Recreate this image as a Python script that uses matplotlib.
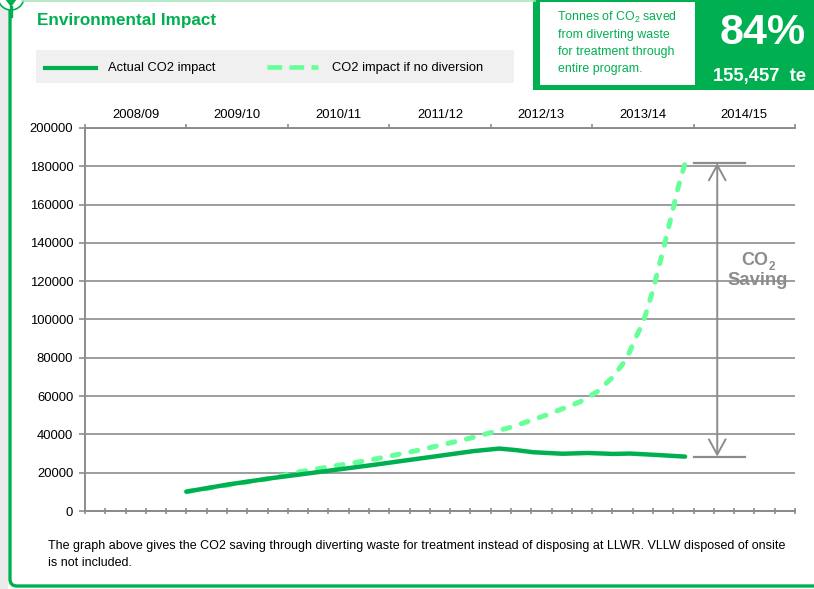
import numpy as np
import matplotlib.pyplot as plt
from matplotlib.patches import Rectangle, Circle, FancyBboxPatch, Polygon

plt.rcParams['font.family'] = ['Liberation Sans', 'DejaVu Sans']

# Data (x = months since April 2008)
years = ["2008/09", "2009/10", "2010/11", "2011/12", "2012/13", "2013/14", "2014/15"]
actual_month = [12, 17, 22, 34, 46, 49, 51, 53, 56.5, 59.5, 62.5, 64.5, 67.5, 71]
actual_co2 = [10100, 13900, 17100, 24000, 31300, 32600, 31800, 30700, 29900,
              30300, 29800, 30000, 29300, 28400]
nodiv_month = [12, 22, 25.4, 33.7, 39.6, 45.5, 50.6, 54.6, 58.6, 60.6, 62.5,
               64.1, 65.3, 66.0, 67.2, 68.4, 69.4, 70.2, 71]
nodiv_co2 = [10100, 17100, 20500, 26600, 31850, 37960, 44000, 50130, 57080, 62300,
             70130, 79740, 91900, 98000, 115400, 136300, 154570, 169350, 181700]

green = "#00b050"
light_green = "#66ff99"
grey = "#8c8c8c"

W, H = 814, 589
fig = plt.figure(figsize=(W / 100, H / 100), dpi=100)

# decoration layer in pixel coordinates
deco = fig.add_axes([0, 0, 1, 1], zorder=0)
deco.set_xlim(0, W)
deco.set_ylim(H, 0)
deco.axis("off")

deco.add_patch(Rectangle((0, 0), 8, H, color="#ebebeb", lw=0))
deco.add_patch(FancyBboxPatch((10, -20), 900, 606, boxstyle="round,pad=0,rounding_size=7",
                              fc="white", ec=green, lw=2.4))
deco.plot([22, 535], [1, 1], color="#a8e6bd", lw=1.2)
deco.add_patch(Circle((11, -3), 13, fc="white", ec=green, lw=1.2))
deco.add_patch(Polygon([[5, -1], [17, -1], [11, 7]], color=green, lw=0))
deco.plot([11, 11], [7, 16], color=green, lw=2.4)

deco.text(37, 20, "Environmental Impact", color=green, fontsize=12.3,
          fontweight="bold", va="center", ha="left")

# legend strip
deco.add_patch(Rectangle((36, 50), 478, 33, color="#f0f0f0", lw=0))
deco.plot([45, 96], [68, 68], color=green, lw=3)
deco.text(108, 68, "Actual CO2 impact", fontsize=9.3, va="center")
deco.plot([267, 318], [67, 67], color=light_green, lw=3.3, dashes=(3.2, 1.6))
deco.text(332, 68, "CO2 impact if no diversion", fontsize=9.3, va="center")

# headline box
deco.add_patch(Rectangle((533, 0), 300, 90, color=green, lw=0))
deco.add_patch(Rectangle((540, 2), 155, 83, color="white", lw=0))
deco.text(557, 17, r"Tonnes of CO$_\mathregular{2}$ saved", color=green, fontsize=8.9,
          va="center")
for i, line in enumerate(["from diverting waste", "for treatment through", "entire program."]):
    deco.text(558, 35 + 17 * i, line, color=green, fontsize=8.9, va="center")
deco.text(720, 33, "84%", color="white", fontsize=31, fontweight="bold", va="center")
deco.text(713, 77, "155,457  te", color="white", fontsize=13.2, fontweight="bold",
          va="center")

deco.text(48, 546, "The graph above gives the CO2 saving through diverting waste for "
          "treatment instead of disposing at LLWR. VLLW disposed of onsite",
          fontsize=9.0, va="center")
deco.text(48, 563, "is not included.", fontsize=9.0, va="center")

# main chart
ax = fig.add_axes([85 / W, (H - 511) / H, 710 / W, 383 / H], zorder=1)
ax.set_facecolor("none")
ax.plot(nodiv_month, nodiv_co2, color=light_green, lw=3.6, dashes=(1.4, 2.4),
        dash_capstyle="round", solid_capstyle="round", zorder=3)
ax.plot(actual_month, actual_co2, color=green, lw=3.2, solid_capstyle="round", zorder=4)

ax.set_xlim(0, 84)
ax.set_ylim(0, 200000)
ax.set_yticks(np.arange(0, 200001, 20000))
ax.set_yticklabels([str(v) for v in range(0, 200001, 20000)], fontsize=9.4)
ax.tick_params(axis="y", direction="out", length=4, color=grey, width=1.2, pad=4.5)
ax.grid(axis="y", color=grey, lw=1.2)
ax.set_axisbelow(True)

ax.xaxis.tick_top()
ax.set_xticks(np.arange(0, 85, 12))
ax.set_xticklabels([])
ax.set_xticks(np.arange(6, 84, 12), minor=True)
ax.set_xticklabels(years, minor=True, fontsize=9.4)
ax.tick_params(axis="x", which="major", direction="out", length=3, color=grey, width=1.2)
ax.tick_params(axis="x", which="minor", length=0, pad=5)

for side in ["left", "top", "bottom"]:
    ax.spines[side].set_color(grey)
    ax.spines[side].set_linewidth(1.4)
ax.spines["right"].set_visible(False)

sec = ax.secondary_xaxis("bottom")
sec.set_xticks(np.arange(0, 85, 12))
sec.set_xticks(np.arange(0, 84.1, 2.4), minor=True)
sec.set_xticklabels([])
sec.tick_params(which="both", direction="inout", length=5, color=grey, width=1.2)
sec.spines["bottom"].set_color(grey)
sec.spines["bottom"].set_linewidth(1.4)

# CO2 saving marker
x_arrow = 74.8
top, bottom = nodiv_co2[-1], actual_co2[-1]
ax.plot([72.0, 78.1], [top, top], color=grey, lw=1.6, clip_on=False, zorder=5)
ax.plot([72.0, 78.1], [bottom, bottom], color=grey, lw=1.6, clip_on=False, zorder=5)
ax.annotate("", xy=(x_arrow, top), xytext=(x_arrow, bottom),
            arrowprops=dict(arrowstyle="<->,head_length=0.55,head_width=0.3",
                            color=grey, lw=1.4, mutation_scale=20,
                            shrinkA=0, shrinkB=0), zorder=5)
ax.text(79.2, 131000, "CO", color=grey, fontsize=13, fontweight="bold",
        ha="center", va="center")
ax.text(81.3, 127500, "2", color=grey, fontsize=8.5, fontweight="bold",
        ha="center", va="center")
ax.text(79.6, 120500, "Saving", color=grey, fontsize=13.3, fontweight="bold",
        ha="center", va="center")

fig.savefig("out.png", dpi=100)
